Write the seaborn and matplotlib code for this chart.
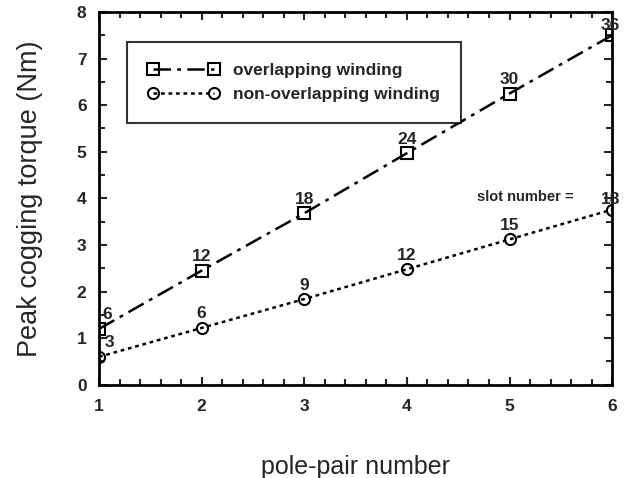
import numpy as np
import pandas as pd
import matplotlib
matplotlib.use("Agg")
import matplotlib.pyplot as plt
import seaborn as sns
from matplotlib.ticker import MultipleLocator

# pole-pair number vs peak cogging torque
pole_pairs = [1, 2, 3, 4, 5, 6]
torque_overlap = [1.2, 2.45, 3.68, 4.97, 6.25, 7.5]
torque_nonoverlap = [0.6, 1.22, 1.84, 2.48, 3.12, 3.76]
slots_overlap = [6, 12, 18, 24, 30, 36]
slots_nonoverlap = [3, 6, 9, 12, 15, 18]

sns.set_style("ticks")
plt.rcParams['font.family'] = ['Liberation Sans', 'DejaVu Sans']

fig = plt.figure(figsize=(6.39, 4.78), dpi=100)
ax = fig.add_axes([0.155, 0.195, 0.803, 0.78])

df1 = pd.DataFrame({"p": pole_pairs, "T": torque_overlap})
df2 = pd.DataFrame({"p": pole_pairs, "T": torque_nonoverlap})

sns.lineplot(data=df1, x="p", y="T", ax=ax, color="black", lw=1.8,
             marker="s", markersize=8, markerfacecolor="none",
             markeredgecolor="black", markeredgewidth=1.5,
             label="overlapping winding")
ax.lines[-1].set_dashes([7, 2.5, 1.5, 2.5])
sns.lineplot(data=df2, x="p", y="T", ax=ax, color="black", lw=1.8,
             marker="o", markersize=8, markerfacecolor="none",
             markeredgecolor="black", markeredgewidth=1.5,
             label="non-overlapping winding")
ax.lines[-1].set_dashes([1.5, 1.5])

# slot number labels
for i, (x, y) in enumerate(zip(pole_pairs, torque_overlap)):
    dx = 0.08 if i == 0 else (-0.02 if i == 5 else 0.0)
    dy = 0.05 if i == 5 else 0.14
    ax.text(x + dx, y + dy, str(slots_overlap[i]), ha="center", va="bottom",
            fontsize=12.5, fontweight="bold")
for i, (x, y) in enumerate(zip(pole_pairs, torque_nonoverlap)):
    dx = 0.1 if i == 0 else (-0.02 if i == 5 else 0.0)
    dy = 0.05 if i == 5 else 0.14
    ax.text(x + dx, y + dy, str(slots_nonoverlap[i]), ha="center", va="bottom",
            fontsize=12.5, fontweight="bold")
ax.text(5.62, 3.88, "slot number =", ha="right", va="bottom", fontsize=10.5,
        fontweight="bold")

ax.set_xlim(1, 6)
ax.set_ylim(0, 8)
ax.xaxis.set_major_locator(MultipleLocator(1))
ax.xaxis.set_minor_locator(MultipleLocator(0.2))
ax.yaxis.set_major_locator(MultipleLocator(1))
ax.yaxis.set_minor_locator(MultipleLocator(0.5))
ax.tick_params(which="both", direction="in", top=True, right=True, width=1.5)
ax.tick_params(which="major", length=6, labelsize=12.5)
ax.tick_params(axis="x", which="major", pad=10)
ax.tick_params(axis="y", which="major", pad=9)
ax.tick_params(which="minor", length=4)
for lab in ax.get_xticklabels() + ax.get_yticklabels():
    lab.set_fontweight("bold")
for s in ax.spines.values():
    s.set_linewidth(2)
    s.set_color("black")

ax.set_xlabel("pole-pair number", fontsize=18, labelpad=30)
ax.set_ylabel("Peak cogging torque (Nm)", fontsize=19.5, labelpad=24)

leg = ax.legend(loc="upper left", bbox_to_anchor=(0.055, 0.92), fontsize=12.5,
                frameon=True, fancybox=False, edgecolor="black",
                handlelength=4.1, handletextpad=0.8, numpoints=2,
                borderpad=1.2, borderaxespad=0, labelspacing=0.55)
leg.get_frame().set_linewidth(1.5)
for t in leg.get_texts():
    t.set_fontweight("bold")

plt.savefig("out.png", dpi=100)
